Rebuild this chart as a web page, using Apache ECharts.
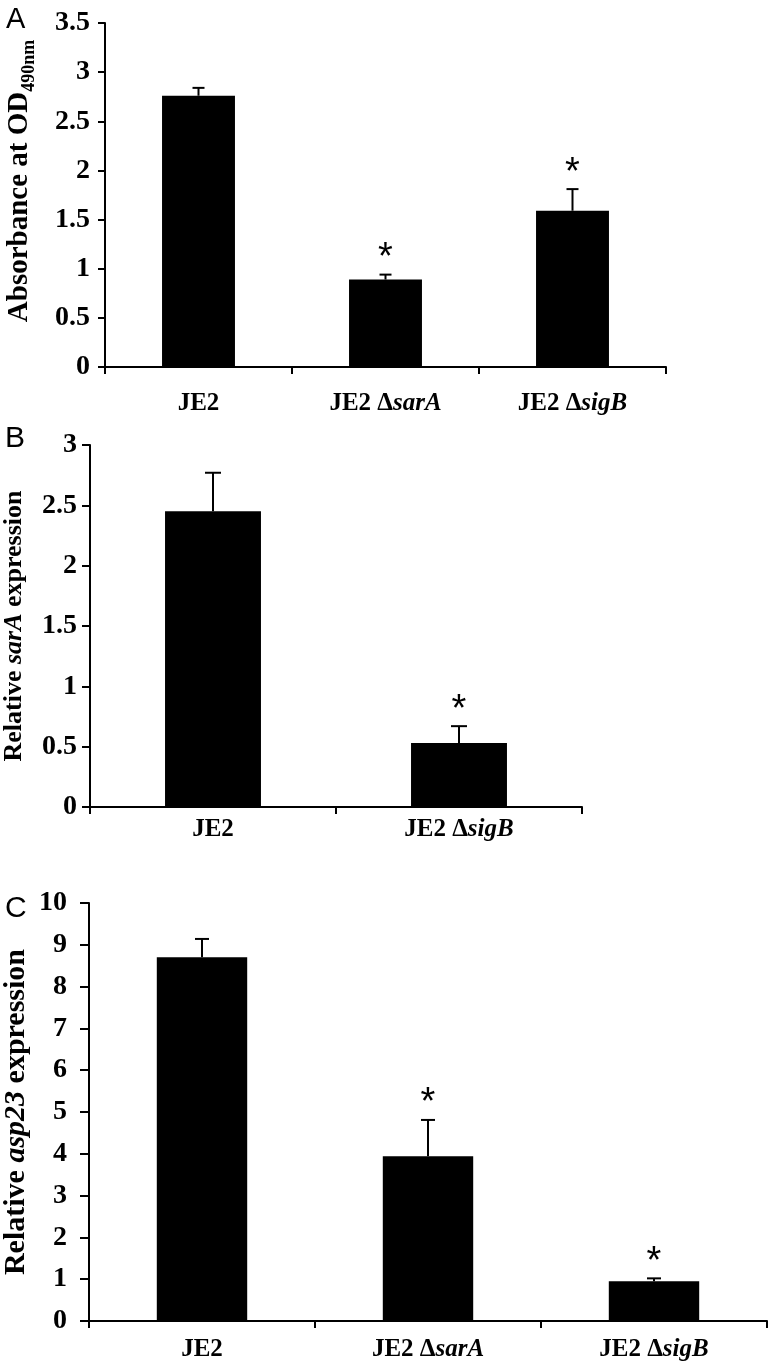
<!DOCTYPE html>
<html>
<head>
<meta charset="utf-8">
<script src="https://cdn.jsdelivr.net/npm/echarts@6/dist/echarts.min.js"></script>
<style>
  html, body { margin: 0; padding: 0; background: #fff; }
  #chart { width: 780px; height: 1364px; }
</style>
</head>
<body>
<div id="chart"></div>
<script>
// panel A - biofilm absorbance
const groupsA = ['JE2', 'JE2 ΔsarA', 'JE2 ΔsigB'];
const meansA = [2.76, 0.89, 1.59];
const errA = [0.08, 0.05, 0.22];
const starA = [false, true, true];

// panel B - relative sarA expression
const groupsB = ['JE2', 'JE2 ΔsigB'];
const meansB = [2.45, 0.53];
const errB = [0.32, 0.14];
const starB = [false, true];

// panel C - relative asp23 expression
const groupsC = ['JE2', 'JE2 ΔsarA', 'JE2 ΔsigB'];
const meansC = [8.70, 3.94, 0.95];
const errC = [0.44, 0.87, 0.07];
const starC = [false, true, true];

const serif = '"Liberation Serif", "Times New Roman", serif';
const sans = '"Liberation Sans", Arial, sans-serif';

// 'JE2 ΔsarA' -> bold part + bold italic gene name
const fmtCat = (v) => {
	const k = v.indexOf('Δ');
	if (k < 0) return '{n|' + v + '}';
	return '{n|' + v.slice(0, k + 1) + '}{i|' + v.slice(k + 1) + '}';
};

const catRich = {
	n: { fontFamily: serif, fontWeight: 'bold', fontSize: 25, color: '#000' },
	i: { fontFamily: serif, fontWeight: 'bold', fontStyle: 'italic', fontSize: 25, color: '#000' },
};

const makeX = (idx, data, margin) => ({
	type: 'category',
	gridIndex: idx,
	data: data,
	axisLine: { lineStyle: { color: '#000', width: 2 } },
	axisTick: { show: true, length: 7, lineStyle: { color: '#000', width: 2 } },
	axisLabel: { margin: margin, formatter: fmtCat, rich: catRich },
	splitLine: { show: false },
});

const makeY = (idx, max, interval, margin, tickLen, name, nameGap, nameRich, namePad) => ({
	type: 'value',
	gridIndex: idx,
	min: 0,
	max: max,
	interval: interval,
	axisLine: { show: true, lineStyle: { color: '#000', width: 2 } },
	axisTick: { show: true, length: tickLen, lineStyle: { color: '#000', width: 2 } },
	axisLabel: { margin: margin, fontFamily: serif, fontWeight: 'bold', fontSize: 28, color: '#000' },
	splitLine: { show: false },
	name: name,
	nameLocation: 'middle',
	nameGap: nameGap,
	nameRotate: 90,
	nameMoveOverlap: false,
	nameTextStyle: { rich: nameRich, padding: namePad },
});

// error bar (upper half) plus significance star
const errSeries = (idx, means, errs, stars, capW) => ({
	type: 'custom',
	xAxisIndex: idx,
	yAxisIndex: idx,
	data: means.map((m, i) => [i, m, errs[i], stars[i] ? 1 : 0]),
	z: 5,
	renderItem: (params, api) => {
		const i = api.value(0);
		const m = api.value(1);
		const e = api.value(2);
		const base = api.coord([i, m]);
		const top = api.coord([i, m + e]);
		const children = [
			{ type: 'line', shape: { x1: top[0], y1: base[1], x2: top[0], y2: top[1] }, style: { stroke: '#000', lineWidth: 2 } },
			{ type: 'line', shape: { x1: top[0] - capW / 2, y1: top[1], x2: top[0] + capW / 2, y2: top[1] }, style: { stroke: '#000', lineWidth: 2 } },
		];
		if (api.value(3)) {
			children.push({
				type: 'text',
				style: { text: '*', x: top[0], y: top[1] - 16, align: 'center', verticalAlign: 'middle', font: 'normal 38px ' + sans, fill: '#000' },
			});
		}
		return { type: 'group', children: children };
	},
});

const barSeries = (idx, means, width) => ({
	type: 'bar',
	xAxisIndex: idx,
	yAxisIndex: idx,
	data: means,
	barWidth: width,
	itemStyle: { color: '#000' },
	silent: true,
});

const chart = echarts.init(document.getElementById('chart'));
const option = {
	backgroundColor: '#fff',
	animation: false,
	grid: [
		{ left: 105, top: 23, width: 561, height: 344, outerBoundsMode: 'none', containLabel: false },
		{ left: 90, top: 445, width: 492, height: 362, outerBoundsMode: 'none', containLabel: false },
		{ left: 89, top: 903, width: 678, height: 418, outerBoundsMode: 'none', containLabel: false },
	],
	xAxis: [
		makeX(0, groupsA, 24),
		makeX(1, groupsB, 10),
		makeX(2, groupsC, 16),
	],
	yAxis: [
		makeY(0, 3.5, 0.5, 15, 7, '{m|Absorbance at OD}{s|490nm}', 52, {
			m: { fontFamily: serif, fontWeight: 'bold', fontSize: 29, color: '#000', lineHeight: 30, verticalAlign: 'top' },
			s: { fontFamily: serif, fontWeight: 'bold', fontSize: 18, color: '#000', lineHeight: 48, verticalAlign: 'middle' },
		}, [0, 0, 0, 28]),
		makeY(1, 3, 0.5, 13, 8, '{n|Relative }{i|sarA}{n| expression}', 63, {
			n: { fontFamily: serif, fontWeight: 'bold', fontSize: 26, color: '#000' },
			i: { fontFamily: serif, fontWeight: 'bold', fontStyle: 'italic', fontSize: 26, color: '#000' },
		}, 0),
		makeY(2, 10, 1, 22, 9, '{n|Relative }{i|asp23}{n| expression}', 58, {
			n: { fontFamily: serif, fontWeight: 'bold', fontSize: 30, color: '#000' },
			i: { fontFamily: serif, fontWeight: 'bold', fontStyle: 'italic', fontSize: 30, color: '#000' },
		}, 0),
	],
	series: [
		barSeries(0, meansA, '39%'),
		errSeries(0, meansA, errA, starA, 12),
		barSeries(1, meansB, '39%'),
		errSeries(1, meansB, errB, starB, 16),
		barSeries(2, meansC, '40%'),
		errSeries(2, meansC, errC, starC, 14),
	],
	graphic: [
		{ type: 'text', left: 6, top: 5, style: { text: 'A', font: 'normal 29px ' + sans, fill: '#000' } },
		{ type: 'text', left: 5, top: 424, style: { text: 'B', font: 'normal 30px ' + sans, fill: '#000' } },
		{ type: 'text', left: 5, top: 894, style: { text: 'C', font: 'normal 30px ' + sans, fill: '#000' } },
	],
};
chart.setOption(option);
</script>
</body>
</html>
